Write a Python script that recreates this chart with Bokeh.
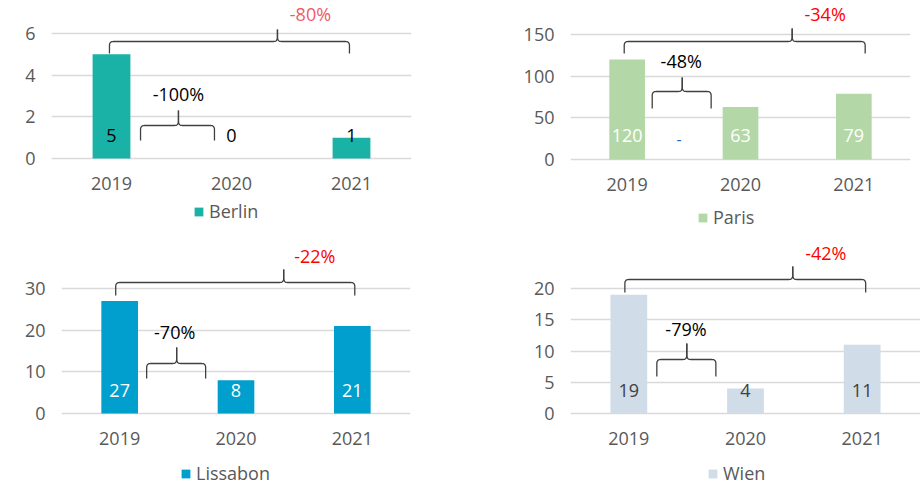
import numpy as np
from bokeh.plotting import figure
from bokeh.models import Range1d, FixedTicker, Legend, LegendItem, ColumnDataSource
from bokeh.layouts import row, column
from bokeh.core.properties import value
from bokeh.embed import file_html
from bokeh.resources import INLINE

# ---------------- data ----------------
years = ["2019", "2020", "2021"]
berlin = [5, 0, 1]
paris = [120, 63, 79]
lissabon = [27, 8, 21]
wien = [19, 4, 11]

berlin_ticks = [0, 2, 4, 6]
paris_ticks = [0, 50, 100, 150]
lissabon_ticks = [0, 10, 20, 30]
wien_ticks = [0, 5, 10, 15, 20]

# change 2019->2020, change 2019->2021
berlin_changes = ["-100%", "-80%"]
paris_changes = ["-48%", "-34%"]
lissabon_changes = ["-70%", "-22%"]
wien_changes = ["-79%", "-42%"]

FONT = "Open Sans"
TICK_COLOR = "#595959"


def quad(p0, c, p1, n=10):
    t = np.linspace(0, 1, n)
    x = (1 - t) ** 2 * p0[0] + 2 * (1 - t) * t * c[0] + t ** 2 * p1[0]
    y = (1 - t) ** 2 * p0[1] + 2 * (1 - t) * t * c[1] + t ** 2 * p1[1]
    return list(x), list(y)


def brace(x0, x1, xt, yb, yh, yt, rx, ry):
    lx, ly = [x0], [yb]
    a, b = quad((x0, yh - ry), (x0, yh), (x0 + rx, yh))
    lx += a; ly += b
    a, b = quad((xt - rx, yh), (xt, yh), (xt, yh + ry))
    lx += a; ly += b
    lx.append(xt); ly.append(yt)
    rxs, rys = [xt], [yt]
    a, b = quad((xt, yh + ry), (xt, yh), (xt + rx, yh))
    rxs += a; rys += b
    a, b = quad((x1 - rx, yh), (x1, yh), (x1, yh - ry))
    rxs += a; rys += b
    rxs.append(x1); rys.append(yb)
    return [lx, rxs], [ly, rys]


def panel(name, vals, ticks, changes, color, val_color, big_color, st):
    w, h, bl, fw, z, ppu = st["w"], st["h"], st["bl"], st["fw"], st["zero"], st["ppu"]
    xppu = fw / 3.0
    p = figure(width=w, height=h, x_range=Range1d(-0.5, 2.5),
               y_range=Range1d(-(h - z) / ppu, z / ppu), output_backend="svg",
               toolbar_location=None, min_border_left=bl,
               min_border_right=w - bl - fw, min_border_top=0,
               min_border_bottom=0, outline_line_color=None,
               background_fill_color="white", border_fill_color="white")
    xs = list(range(len(years)))
    src = ColumnDataSource(dict(x=xs, top=vals, lbl=[str(v) for v in vals],
                                ly=[st["val_y"] / ppu] * len(vals)))
    bars = p.vbar(x="x", top="top", width=0.315, source=src,
                  fill_color=color, line_color=None)
    p.text(x="x", y="ly", text="lbl", source=src, text_font=value(FONT),
           text_font_size=value("18px"), text_align="center",
           text_baseline="middle", text_color=val_color)

    # braces
    r = 4
    for key, lkey, txt, tcol in (("big", "big_lbl", changes[1], big_color),
                                 ("small", "small_lbl", changes[0], "black")):
        x0, x1, xt, yb, yh, yt = st[key]
        bx, by = brace(x0, x1, xt, yb / ppu, yh / ppu, yt / ppu, r / xppu, r / ppu)
        p.multi_line(xs=bx, ys=by, line_color="#404040", line_width=1.3)
        lx, lyp = st[lkey]
        p.text(x=[lx], y=[lyp / ppu], text=[txt], text_font=value(FONT),
               text_font_size=value("18px"), text_align="center",
               text_baseline="middle", text_color=tcol)
    if "dash" in st:
        dx, dy = st["dash"]
        p.text(x=[dx], y=[dy / ppu], text=["-"], text_font=value(FONT),
               text_font_size=value("16px"), text_align="center",
               text_baseline="middle", text_color="#1f6fbf")

    # axes
    p.xaxis.ticker = FixedTicker(ticks=xs)
    p.xaxis.major_label_overrides = {i: y for i, y in enumerate(years)}
    p.xaxis.fixed_location = 0
    p.yaxis.ticker = FixedTicker(ticks=ticks)
    for ax in (p.xaxis[0], p.yaxis[0]):
        ax.axis_line_color = None
        ax.major_tick_line_color = None
        ax.minor_tick_line_color = None
        ax.major_tick_out = 0
        ax.major_tick_in = 0
        ax.major_label_text_font = FONT
        ax.major_label_text_font_size = "18px"
        ax.major_label_text_color = TICK_COLOR
    p.xaxis.major_label_standoff = 18
    p.yaxis.major_label_standoff = 16
    p.xgrid.visible = False
    p.ygrid.grid_line_color = "#d9d9d9"
    p.ygrid.grid_line_width = 1.5

    leg = Legend(items=[LegendItem(label=name, renderers=[bars])],
                 location=st["leg"], orientation="horizontal", padding=0,
                 margin=0, border_line_color=None, background_fill_alpha=0,
                 glyph_width=11, glyph_height=11, label_height=11,
                 label_standoff=5, label_text_font=FONT,
                 label_text_font_size="18px", label_text_color=TICK_COLOR)
    p.add_layout(leg)
    return p


p1 = panel("Berlin", berlin, berlin_ticks, berlin_changes, "#1ab2a7", "black", "#ef5a64",
           dict(w=460, h=230, bl=51, fw=360, zero=158, ppu=20.833,
                big=(-0.017, 1.983, 1.383, 105, 117, 129), big_lbl=(1.658, 145),
                small=(0.242, 0.858, 0.558, 18, 33, 48), small_lbl=(0.558, 65),
                val_y=23, leg=(142, 7)))
p2 = panel("Paris", paris, paris_ticks, paris_changes, "#b3d7a6", "white", "#ff0000",
           dict(w=460, h=230, bl=110, fw=340, zero=159, ppu=0.8333,
                big=(-0.026, 2.1, 1.456, 106, 118, 131), big_lbl=(1.747, 146),
                small=(0.221, 0.741, 0.486, 51, 68, 82), small_lbl=(0.477, 99),
                val_y=24, leg=(127, 1), dash=(0.459, 21)))
p3 = panel("Lissabon", lissabon, lissabon_ticks, lissabon_changes, "#009fce", "white", "#ff0000",
           dict(w=460, h=255, bl=61, fw=349, zero=183, ppu=4.1667,
                big=(-0.034, 2.021, 1.41, 118, 131, 144), big_lbl=(1.677, 158),
                small=(0.232, 0.739, 0.49, 35, 50, 66), small_lbl=(0.473, 82),
                val_y=23, leg=(119, 0)))
p4 = panel("Wien", wien, wien_ticks, wien_changes, "#d0dce8", "#404040", "#ff0000",
           dict(w=460, h=255, bl=110, fw=350, zero=183, ppu=6.25,
                big=(-0.034, 2.03, 1.405, 121, 134, 147), big_lbl=(1.688, 161),
                small=(0.24, 0.746, 0.497, 37, 54, 70), small_lbl=(0.49, 85),
                val_y=23, leg=(137, 0)))

layout = column(row(p1, p2), row(p3, p4))
open("out.html", "w").write(file_html(layout, INLINE))
